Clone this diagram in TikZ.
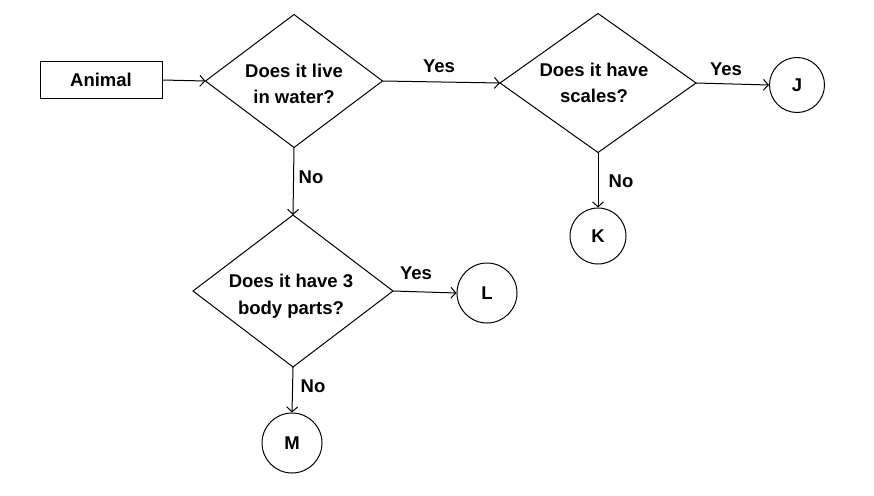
\documentclass[tikz,border=0pt]{standalone}
\usepackage{fontspec}
\setmainfont{Liberation Sans}
\usetikzlibrary{shapes.geometric,arrows.meta}
\begin{document}
\begin{tikzpicture}[x=1pt,y=-1pt,
  every node/.style={font=\bfseries\fontsize{18.5}{26.5}\selectfont},
  dia/.style={diamond,draw,line width=1pt,inner sep=0pt,outer sep=0pt},
  txt/.style={align=center,inner sep=0pt},
  box/.style={rectangle,draw,line width=1pt,minimum width=122pt,minimum height=37pt},
  leaf/.style={circle,draw,line width=1pt,inner sep=0pt},
  conn/.style={line width=1pt,-{Straight Barb[length=5pt,width=11pt,line width=1pt]}},
  lab/.style={inner sep=0pt}]
\useasboundingbox (0,0) rectangle (874,495);
\fill[white] (0,0) rectangle (874,495);
\node[box] (animal) at (101,80) {Animal};
\node[dia,minimum width=177pt,minimum height=133pt] (d1) at (294,81) {};
\node[txt] (d1t) at (294,84) {Does it live\\in water?};
\node[dia,minimum width=196pt,minimum height=139pt] (d2) at (598,83) {};
\node[txt] (d2t) at (594,83) {Does it have\\scales?};
\node[dia,minimum width=200pt,minimum height=152pt] (d3) at (293,291) {};
\node[txt] (d3t) at (291,296) {Does it have 3\\body parts?};
\node[leaf,minimum size=55pt] (J) at (797,85) {J};
\node[leaf,minimum size=56pt] (K) at (598,236) {K};
\node[leaf,minimum size=60pt] (L) at (487,293) {L};
\node[leaf,minimum size=60pt] (M) at (292,443) {M};
\draw[conn] (animal.east) -- (d1.west);
\draw[conn] (d1.east) -- (d2.west);
\draw[conn] (d1.south) -- (d3.north);
\draw[conn] (d2.east) -- (J.west);
\draw[conn] (d2.south) -- (K.north);
\draw[conn] (d3.east) -- (L.west);
\draw[conn] (d3.south) -- (M.north);
\node[lab] (y1) at (439,66) {Yes};
\node[lab] (y2) at (726,69) {Yes};
\node[lab] (y3) at (416,273) {Yes};
\node[lab] (n1) at (311,177) {No};
\node[lab] (n2) at (621,181) {No};
\node[lab] (n3) at (313,386) {No};
\end{tikzpicture}
\end{document}
